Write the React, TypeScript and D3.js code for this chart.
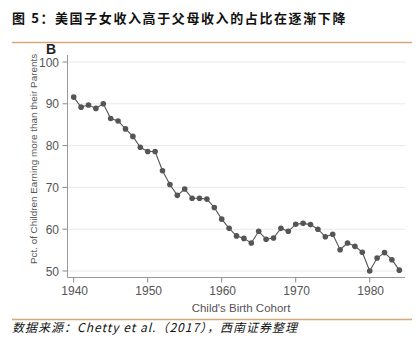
import React from "react";
import * as d3 from "d3";

const years: number[] = d3.range(1940, 1985);
const values: number[] = [
  91.6, 89.2, 89.7, 88.9, 90.0, 86.5, 85.9, 84.0, 82.2, 79.6,
  78.6, 78.6, 74.0, 70.7, 68.1, 69.6, 67.4, 67.4, 67.2, 65.2,
  62.4, 60.2, 58.4, 57.8, 56.7, 59.5, 57.6, 57.9, 60.2, 59.5,
  61.2, 61.4, 61.1, 60.0, 58.2, 58.8, 55.1, 56.7, 55.9, 54.5,
  50.0, 53.1, 54.4, 52.7, 50.2,
];
const xTicks: number[] = [1940, 1950, 1960, 1970, 1980];
const yTicks: number[] = [50, 60, 70, 80, 90, 100];

const title = "图 5：美国子女收入高于父母收入的占比在逐渐下降";
const source = "数据来源：Chetty et al.（2017），西南证券整理";
const yLabel = "Pct. of Children Earning more than their Parents";
const xLabel = "Child's Birth Cohort";

export default function App() {
  const W = 419, H = 352;
  const x = d3.scaleLinear().domain([1940, 1980]).range([73.7, 369.7]);
  const y = d3.scaleLinear().domain([50, 100]).range([271, 62]);
  const axisX = 67.5;
  const axisY = 277.5;
  const right = 405;
  const line = d3.line<number>().x((_, i) => x(years[i])).y((d) => y(d));
  const font = "'Liberation Sans', Arial, sans-serif";
  const cjk = "'Noto Sans CJK SC', sans-serif";
  return (
    <svg width={W} height={H} style={{ position: "absolute", left: 0, top: 0, background: "#fff" }}>
      <text x={12} y={23} fontFamily={cjk} fontWeight="bold" fontSize={13} letterSpacing={1.6} fill="#111">{title}</text>
      <line x1={12} x2={412} y1={42.5} y2={42.5} stroke="#d6a878" strokeWidth={1.5} />
      <text x={46} y={54} fontFamily={font} fontWeight="bold" fontSize={14} fill="#222">B</text>
      {yTicks.map((t) => (
        <g key={t}>
          <line x1={axisX} x2={right} y1={y(t)} y2={y(t)} stroke="#e8e8e8" strokeWidth={1} />
          <line x1={axisX - 5} x2={axisX} y1={y(t)} y2={y(t)} stroke="#888" strokeWidth={1} />
          <text x={59} y={y(t) + 4.5} textAnchor="end" fontFamily={font} fontSize={12} fill="#555">{t}</text>
        </g>
      ))}
      <line x1={axisX} x2={axisX} y1={55} y2={axisY} stroke="#999" strokeWidth={1} />
      <line x1={axisX} x2={right} y1={axisY} y2={axisY} stroke="#999" strokeWidth={1} />
      {xTicks.map((t) => (
        <g key={t}>
          <line x1={x(t)} x2={x(t)} y1={axisY} y2={axisY + 5} stroke="#888" strokeWidth={1} />
          <text x={x(t) + 1} y={295} textAnchor="middle" fontFamily={font} fontSize={12} fill="#555">{t}</text>
        </g>
      ))}
      <text x={241} y={312} textAnchor="middle" fontFamily={font} fontSize={11.5} fill="#555">{xLabel}</text>
      <text transform={`translate(37,${(50 + 268) / 2}) rotate(-90)`} textAnchor="middle" fontFamily={font} fontSize={9.9} fill="#555">{yLabel}</text>
      <path d={line(values) || ""} fill="none" stroke="#555" strokeWidth={1.1} />
      {values.map((v, i) => (
        <circle key={i} cx={x(years[i])} cy={y(v)} r={2.8} fill="#555" />
      ))}
      <line x1={12} x2={412} y1={319.5} y2={319.5} stroke="#d6a878" strokeWidth={1.5} />
      <text x={12} y={332} fontFamily={cjk} fontStyle="italic" fontSize={12} letterSpacing={1} fill="#111">{source}</text>
    </svg>
  );
}
